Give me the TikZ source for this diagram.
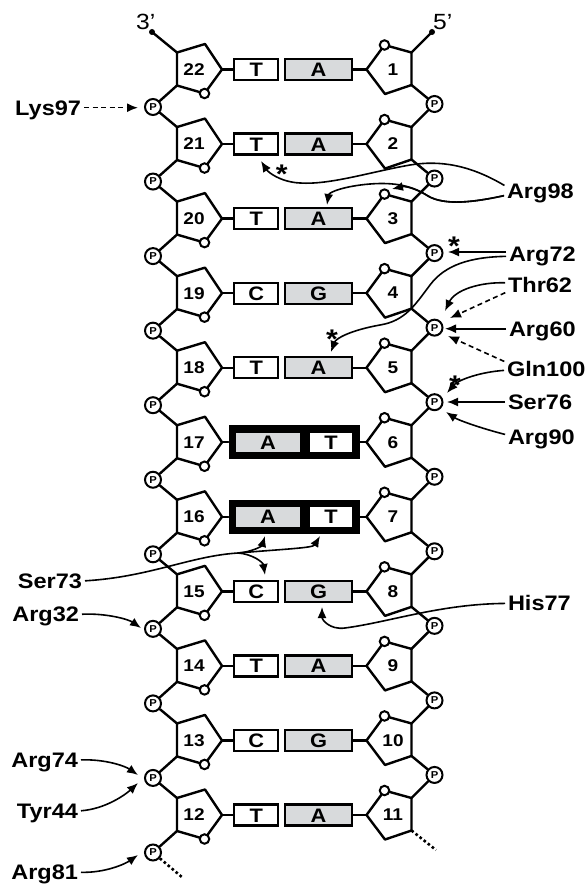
\documentclass[tikz,border=0pt]{standalone}
\usepackage{fontspec}
\setmainfont{Liberation Sans}[FakeStretch=1.12]
\usetikzlibrary{arrows.meta,calc}
\definecolor{bgray}{RGB}{216,218,220}
\begin{document}
\begin{tikzpicture}[x=1pt,y=-1pt,
  strand/.style={line width=2.4pt,line cap=round,line join=round},
  ocirc/.style={circle,draw,line width=2pt,fill=white,minimum size=9.5pt,inner sep=0pt},
  pcirc/.style={circle,draw,line width=2pt,fill=white,minimum size=16pt,inner sep=0pt,font=\bfseries\fontsize{10}{10}\selectfont},
  endot/.style={circle,fill=black,minimum size=6pt,inner sep=0pt},
  numf/.style={inner sep=0pt,font=\bfseries\fontsize{17}{18}\selectfont},
  basef/.style={inner sep=0pt,font=\bfseries\fontsize{19.5}{20}\selectfont,text height=14pt,text depth=0pt},
  boxw/.style={basef,draw,line width=2.2pt,fill=white,minimum height=21pt},
  boxg/.style={boxw,fill=bgray},
  frame/.style={fill=black,inner sep=0pt,minimum width=131pt,minimum height=34pt},
  inw/.style={basef,fill=white,minimum height=19.5pt,minimum width=42pt},
  ing/.style={basef,fill=bgray,minimum height=19.5pt,minimum width=64pt},
  lab/.style={inner sep=0pt,outer sep=0pt,font=\bfseries\fontsize{21}{24}\selectfont,text height=15pt,text depth=0pt},
  endlab/.style={inner sep=0pt,font=\fontsize{22}{24}\selectfont,anchor=base west},
  ast/.style={inner sep=0pt,anchor=base,font=\bfseries\fontsize{27}{27}\selectfont},
  arr/.style={line width=1.6pt,shorten <=3pt,-{Latex[length=11pt,width=9pt]}},
  darr/.style={arr,dash pattern=on 5pt off 3.5pt},
  dotline/.style={line width=2.6pt,dash pattern=on 2.6pt off 2.6pt},
]
\useasboundingbox (0,0) rectangle (587,885);

% sugars
\foreach \i in {1,...,11}{
  \pgfmathsetmacro\yy{69.5+74.55*(\i-1)}
  \pgfmathtruncatemacro\lnum{23-\i}
  \coordinate (Ltl\i) at (177,\yy-17);
  \coordinate (Ltop\i) at (205,\yy-25.5);
  \coordinate (Lr\i) at (222,\yy);
  \coordinate (LO\i) at (204.5,\yy+24);
  \coordinate (Lbl\i) at (177,\yy+16);
  \coordinate (Rtr\i) at (411.5,\yy-17);
  \coordinate (RO\i) at (384.5,\yy-24.5);
  \coordinate (Rl\i) at (366.5,\yy);
  \coordinate (Rbot\i) at (385,\yy+24.5);
  \coordinate (Rbr\i) at (411.5,\yy+15.5);
  \draw[strand] (Ltl\i) -- (Ltop\i) -- (Lr\i) -- (LO\i) -- (Lbl\i) -- cycle;
  \draw[strand] (Rtr\i) -- (RO\i) -- (Rl\i) -- (Rbot\i) -- (Rbr\i) -- cycle;
  \node[ocirc] (LOc\i) at (LO\i) {};
  \node[ocirc] (ROc\i) at (RO\i) {};
  \node[numf] (Ln\i) at (194,\yy) {\lnum};
  \node[numf] (Rn\i) at (393,\yy) {\i};
}

% base pairs
\foreach \i/\lt/\rt in {1/T/A,2/T/A,3/T/A,4/C/G,5/T/A,8/C/G,9/T/A,10/C/G,11/T/A}{
  \pgfmathsetmacro\yy{69.5+74.55*(\i-1)}
  \node[boxw,minimum width=43.7pt] (BW\i) at (256.2,\yy) {\lt};
  \node[boxg,minimum width=66.4pt] (BG\i) at (318.5,\yy) {\rt};
  \draw[strand] (Lr\i) -- (BW\i.west);
  \draw[strand] (BG\i.east) -- (Rl\i);
}
\foreach \i in {6,7}{
  \pgfmathsetmacro\yy{69.5+74.55*(\i-1)}
  \node[frame] (F\i) at (294,\yy) {};
  \node[ing] (BG\i) at (268,\yy) {A};
  \node[inw] (BW\i) at (331,\yy) {T};
  \draw[strand] (Lr\i) -- (F\i.west);
  \draw[strand] (F\i.east) -- (Rl\i);
}

% backbone
\foreach \i in {1,...,11}{
  \pgfmathsetmacro\yy{69.5+74.55*(\i-1)}
  \node[pcirc] (PL\i) at (153,\yy+37.5) {P};
  \draw[strand] (Lbl\i) -- (PL\i);
}
\foreach \i in {1,...,10}{
  \pgfmathsetmacro\yy{69.5+74.55*(\i-1)}
  \pgfmathtruncatemacro\nx{\i+1}
  \node[pcirc] (PR\i) at (434.5,\yy+34.5) {P};
  \draw[strand] (PL\i) -- (Ltl\nx);
  \draw[strand] (Rbr\i) -- (PR\i) -- (Rtr\nx);
}

% ends
\node[endot] (d3) at (152,32) {};
\node[endot] (d5) at (432,32) {};
\draw[strand] (Ltl1) -- (d3.center);
\draw[strand] (Rtr1) -- (d5.center);
\node[endlab] (t3) at (136,29.5) {3’};
\node[endlab] (t5) at (433,29.5) {5’};
\coordinate (Lend) at (183,878);
\coordinate (Rend) at (436,850);
\draw[dotline] (PL11) -- (Lend);
\draw[dotline] (Rbr11) -- (Rend);

% labels
\node[lab,anchor=east] (lys97) at (81,107.7) {Lys97};
\node[lab,anchor=east] (ser73) at (82,581) {Ser73};
\node[lab,anchor=east] (arg32) at (79,614.4) {Arg32};
\node[lab,anchor=east] (arg74) at (78,760) {Arg74};
\node[lab,anchor=east] (tyr44) at (78,811) {Tyr44};
\node[lab,anchor=east] (arg81) at (78,872.2) {Arg81};
\node[lab,anchor=west] (arg98) at (507,191) {Arg98};
\node[lab,anchor=west] (arg72) at (509,254.3) {Arg72};
\node[lab,anchor=west] (thr62) at (508,285.4) {Thr62};
\node[lab,anchor=west] (arg60) at (509,328.7) {Arg60};
\node[lab,anchor=west] (gln100) at (507,368.7) {Gln100};
\node[lab,anchor=west] (ser76) at (508,402) {Ser76};
\node[lab,anchor=west] (arg90) at (508,436.7) {Arg90};
\node[lab,anchor=west] (his77) at (508,603.4) {His77};

% tips
\coordinate (tLys) at (138,107.7);
\coordinate (tA98a) at (261,161);
\coordinate (tA98b) at (392,189);
\coordinate (tA98c) at (327,205);
\coordinate (tA72a) at (448,252);
\coordinate (tA72b) at (331,352);
\coordinate (tT62a) at (445,311);
\coordinate (tT62b) at (450,318);
\coordinate (tA60) at (445,328.7);
\coordinate (tG100a) at (448,336);
\coordinate (tG100b) at (447,393);
\coordinate (tS76) at (447,402);
\coordinate (tA90) at (446,412);
\coordinate (tH77) at (322,607);
\coordinate (J73) at (238,553);
\coordinate (tS73A) at (265,536);
\coordinate (tS73T) at (320,536);
\coordinate (tS73C) at (265,575);
\coordinate (tA32) at (141,628);
\coordinate (tA74) at (138,775);
\coordinate (tY44) at (138,783);
\coordinate (tA81) at (138,855);

% interactions
\draw[darr] (lys97.east) -- (tLys);
\draw[arr] ($(arg98.west)+(0,-4)$) .. controls (470,165) and (440,160) .. (410,165) .. controls (370,172) and (330,185) .. (300,183) .. controls (280,182) and (268,172) .. (tA98a);
\draw[arr] ($(arg98.west)+(0,4)$) .. controls (475,202) and (445,206) .. (428,196) .. controls (415,188) and (405,186) .. (tA98b);
\draw[arr] ($(arg98.west)+(0,4)$) .. controls (475,202) and (445,206) .. (428,196) .. controls (413,186) and (395,182) .. (370,184) .. controls (345,186) and (329,192) .. (tA98c);
\draw[arr] ($(arg72.west)+(0,-2.3)$) -- (tA72a);
\draw[arr] ($(arg72.west)+(0,2)$) .. controls (470,257) and (445,265) .. (430,285) .. controls (415,305) and (405,321) .. (380,325) .. controls (352,330) and (336,338) .. (tA72b);
\draw[arr] ($(thr62.west)+(0,-2.5)$) .. controls (480,282) and (455,290) .. (tT62a);
\draw[darr] ($(thr62.west)+(0,6)$) -- (tT62b);
\draw[arr] (arg60.west) -- (tA60);
\draw[darr] ($(gln100.west)+(0,-6)$) -- (tG100a);
\draw[arr] ($(gln100.west)+(0,1.5)$) .. controls (480,372) and (458,380) .. (tG100b);
\draw[arr] (ser76.west) -- (tS76);
\draw[arr] ($(arg90.west)+(0,-1.5)$) .. controls (480,428) and (458,420) .. (tA90);
\draw[arr] (his77.west) .. controls (440,604) and (390,622) .. (345,628) .. controls (330,630) and (322,620) .. (tH77);
\draw[line width=1.6pt,shorten <=3pt] (ser73.east) .. controls (150,577) and (190,556) .. (J73);
\draw[arr,shorten <=0pt] (J73) .. controls (285,549) and (313,548) .. (tS73T);
\draw[arr,shorten <=0pt] (J73) .. controls (252,552) and (262,546) .. (tS73A);
\draw[arr,shorten <=0pt] (J73) .. controls (252,554) and (263,562) .. (tS73C);
\draw[arr] (arg32.east) .. controls (105,613) and (128,619) .. (tA32);
\draw[arr] (arg74.east) .. controls (105,759) and (125,766) .. (tA74);
\draw[arr] (tyr44.east) .. controls (105,809) and (125,795) .. (tY44);
\draw[arr] (arg81.east) .. controls (105,873) and (125,864) .. (tA81);

% asterisks
\node[ast] (s1) at (281.7,183.5) {*};
\node[ast] (s2) at (454,255.5) {*};
\node[ast] (s3) at (332,348.5) {*};
\node[ast] (s4) at (455,394) {*};
\end{tikzpicture}
\end{document}
